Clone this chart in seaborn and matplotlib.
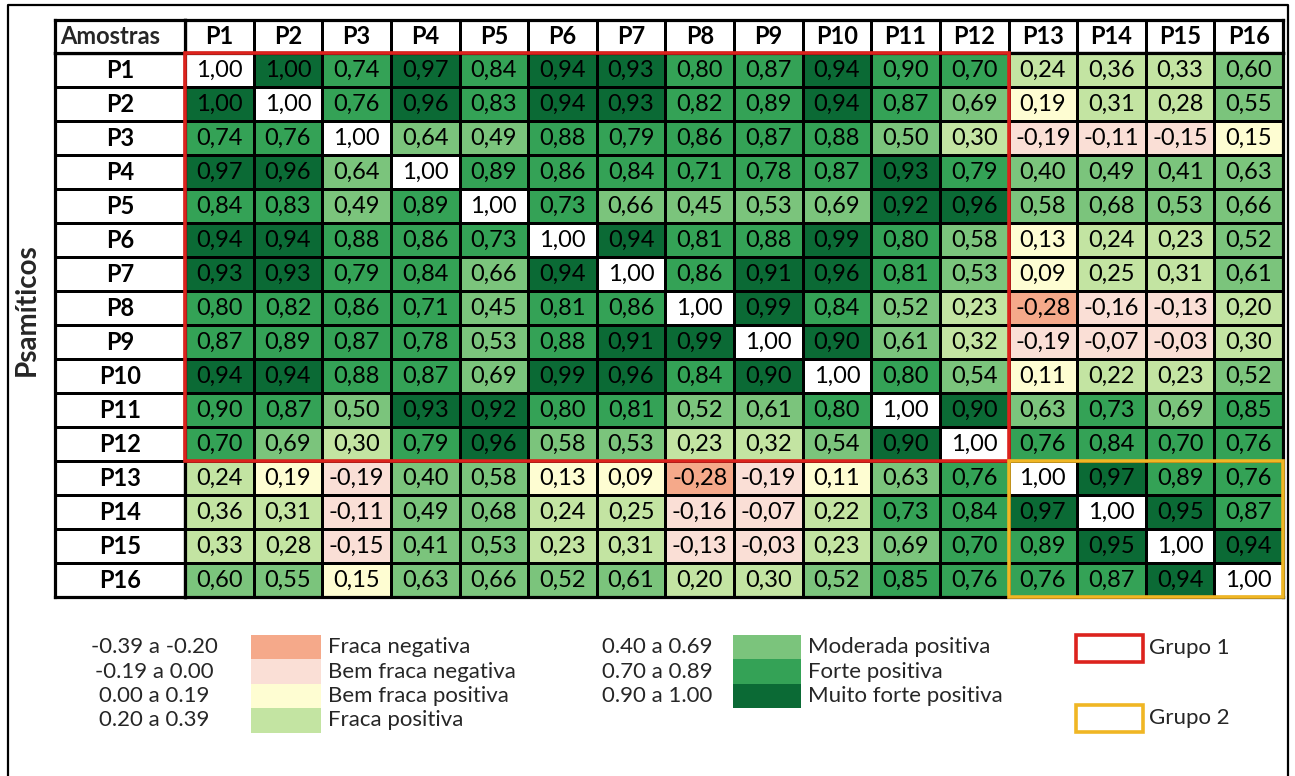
import numpy as np
import pandas as pd
import matplotlib
matplotlib.use("Agg")
import matplotlib.pyplot as plt
from matplotlib.colors import ListedColormap
from matplotlib.patches import Rectangle
import seaborn as sns

samples = [f"P{i}" for i in range(1, 17)]

# correlation values as printed in the table (row by row)
# (0.897 prints as 0,90 but is shaded as "forte", like the original)
corr = [
    [1.00, 1.00, 0.74, 0.97, 0.84, 0.94, 0.93, 0.80, 0.87, 0.94, 0.897, 0.70, 0.24, 0.36, 0.33, 0.60],
    [1.00, 1.00, 0.76, 0.96, 0.83, 0.94, 0.93, 0.82, 0.89, 0.94, 0.87, 0.69, 0.19, 0.31, 0.28, 0.55],
    [0.74, 0.76, 1.00, 0.64, 0.49, 0.88, 0.79, 0.86, 0.87, 0.88, 0.50, 0.30, -0.19, -0.11, -0.15, 0.15],
    [0.97, 0.96, 0.64, 1.00, 0.89, 0.86, 0.84, 0.71, 0.78, 0.87, 0.93, 0.79, 0.40, 0.49, 0.41, 0.63],
    [0.84, 0.83, 0.49, 0.89, 1.00, 0.73, 0.66, 0.45, 0.53, 0.69, 0.92, 0.96, 0.58, 0.68, 0.53, 0.66],
    [0.94, 0.94, 0.88, 0.86, 0.73, 1.00, 0.94, 0.81, 0.88, 0.99, 0.80, 0.58, 0.13, 0.24, 0.23, 0.52],
    [0.93, 0.93, 0.79, 0.84, 0.66, 0.94, 1.00, 0.86, 0.91, 0.96, 0.81, 0.53, 0.09, 0.25, 0.31, 0.61],
    [0.80, 0.82, 0.86, 0.71, 0.45, 0.81, 0.86, 1.00, 0.99, 0.84, 0.52, 0.23, -0.28, -0.16, -0.13, 0.20],
    [0.87, 0.89, 0.87, 0.78, 0.53, 0.88, 0.91, 0.99, 1.00, 0.90, 0.61, 0.32, -0.19, -0.07, -0.03, 0.30],
    [0.94, 0.94, 0.88, 0.87, 0.69, 0.99, 0.96, 0.84, 0.90, 1.00, 0.80, 0.54, 0.11, 0.22, 0.23, 0.52],
    [0.897, 0.87, 0.50, 0.93, 0.92, 0.80, 0.81, 0.52, 0.61, 0.80, 1.00, 0.90, 0.63, 0.73, 0.69, 0.85],
    [0.70, 0.69, 0.30, 0.79, 0.96, 0.58, 0.53, 0.23, 0.32, 0.54, 0.90, 1.00, 0.76, 0.84, 0.70, 0.76],
    [0.24, 0.19, -0.19, 0.40, 0.58, 0.13, 0.09, -0.28, -0.19, 0.11, 0.63, 0.76, 1.00, 0.97, 0.89, 0.76],
    [0.36, 0.31, -0.11, 0.49, 0.68, 0.24, 0.25, -0.16, -0.07, 0.22, 0.73, 0.84, 0.97, 1.00, 0.95, 0.87],
    [0.33, 0.28, -0.15, 0.41, 0.53, 0.23, 0.31, -0.13, -0.03, 0.23, 0.69, 0.70, 0.89, 0.95, 1.00, 0.94],
    [0.60, 0.55, 0.15, 0.63, 0.66, 0.52, 0.61, 0.20, 0.30, 0.52, 0.85, 0.76, 0.76, 0.87, 0.94, 1.00],
]

# classes of the legend
class_edges = [-0.195, 0.0, 0.195, 0.395, 0.695, 0.8995]
class_ranges = ["-0.39 a -0.20", "-0.19 a 0.00", "0.00 a 0.19", "0.20 a 0.39",
                "0.40 a 0.69", "0.70 a 0.89", "0.90 a 1.00"]
class_names = ["Fraca negativa", "Bem fraca negativa", "Bem fraca positiva", "Fraca positiva",
               "Moderada positiva", "Forte positiva", "Muito forte positiva"]
class_colors = ["#f5a98a", "#fadfd6", "#fefdd2", "#c3e4a2",
                "#7bc47c", "#34a256", "#0b6a35"]
diag_color = "#ffffff"

groups = ["Grupo 1", "Grupo 2"]
group_colors = ["#dc231d", "#f0b624"]
group_spans = [(0, 12), (12, 16)]

#------------------------------
df = pd.DataFrame(corr, index=samples, columns=samples)
cats = np.digitize(df.values, class_edges)
np.fill_diagonal(cats, len(class_colors))
labels = df.map(lambda v: f"{v:.2f}".replace(".", ","))

sns.set_theme(style="white")
plt.rcParams["font.family"] = ["Lato", "DejaVu Sans"]

W, H = 1295, 776
fig = plt.figure(figsize=(W / 100, H / 100), dpi=100)

def px_axes(x0, y0, x1, y1):
    return fig.add_axes([x0 / W, 1 - y1 / H, (x1 - x0) / W, (y1 - y0) / H])

tx0, tx1 = 55, 185     # header column
dx1 = 1283             # right edge of table
ty0, ty1 = 20, 53      # header row
dy1 = 597              # bottom of table

fs_cell = 17
cell_kw = dict(cbar=False, linewidths=1, linecolor="black", xticklabels=False, yticklabels=False)
white = ListedColormap(["white"])

# header row
axh = px_axes(tx1, ty0, dx1, ty1)
sns.heatmap(np.zeros((1, 16)), cmap=white, annot=np.array([samples]), fmt="",
            annot_kws={"color": "black", "fontsize": fs_cell, "fontweight": "bold"}, ax=axh, **cell_kw)

# header column
axc = px_axes(tx0, ty1, tx1, dy1)
sns.heatmap(np.zeros((16, 1)), cmap=white, annot=np.array(samples).reshape(-1, 1), fmt="",
            annot_kws={"color": "black", "fontsize": fs_cell, "fontweight": "bold"}, ax=axc, **cell_kw)

# corner
axk = px_axes(tx0, ty0, tx1, ty1)
sns.heatmap(np.zeros((1, 1)), cmap=white, ax=axk, **cell_kw)
axk.text(0.04, 0.5, "Amostras", transform=axk.transAxes, ha="left", va="center",
         fontsize=fs_cell, fontweight="bold")

# main heatmap (on top so the group boxes are not hidden)
ax = px_axes(tx1, ty1, dx1, dy1)
ax.set_zorder(5)
sns.heatmap(cats, cmap=ListedColormap(class_colors + [diag_color]), vmin=-0.5,
            vmax=len(class_colors) + 0.5, annot=labels.values, fmt="",
            annot_kws={"color": "black", "fontsize": fs_cell}, ax=ax, **cell_kw)

for a in (ax, axh, axc, axk):
    for sp in a.spines.values():
        sp.set_visible(True)
        sp.set_linewidth(2.3)
        sp.set_color("black")

# group boxes
for (g0, g1), col in zip(group_spans, group_colors):
    ax.add_patch(Rectangle((g0, g0), g1 - g0, g1 - g0, fill=False, edgecolor=col,
                           linewidth=2.6, clip_on=False, zorder=10))

# side label
fig.text(27 / W, 1 - 310 / H, "Psamíticos", rotation=90, ha="center", va="center",
         fontsize=20, fontweight="bold")

# legend + frame, drawn in pixel coordinates
lg = fig.add_axes([0, 0, 1, 1], zorder=-1)
lg.set_xlim(0, W)
lg.set_ylim(H, 0)
lg.axis("off")
lg.plot([8, 8, 1288, 1288], [H, 5, 5, H], color="black", lw=1.6)

fs_leg = 16
row_h = 24.5
cols = [(154, 251, 321, 328, range(0, 4)), (657, 733, 801, 808, range(4, 7))]
for rx, sx0, sx1, lx, idx in cols:
    for k, i in enumerate(idx):
        yc = 647 + k * row_h
        lg.add_patch(Rectangle((sx0, yc - row_h / 2), sx1 - sx0, row_h,
                               facecolor=class_colors[i], edgecolor="none"))
        lg.text(rx, yc, class_ranges[i], ha="center", va="center", fontsize=fs_leg)
        lg.text(lx, yc, class_names[i], ha="left", va="center", fontsize=fs_leg)

for k, (g, col) in enumerate(zip(groups, group_colors)):
    yc = 648 + k * 70
    lg.add_patch(Rectangle((1076, yc - 13), 67, 27, fill=False, edgecolor=col, linewidth=2.6))
    lg.text(1149, yc, g, ha="left", va="center", fontsize=fs_leg)

plt.savefig("out.png", dpi=100)
